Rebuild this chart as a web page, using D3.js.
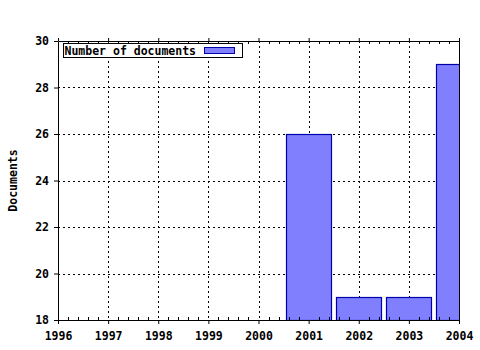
<!DOCTYPE html>
<html>
<head>
<meta charset="utf-8">
<script src="https://cdn.jsdelivr.net/npm/d3@7"></script>
<style>
  body { margin: 0; background: #fff; }
  text { font-family: "DejaVu Sans Mono", monospace; font-weight: bold; font-size: 11.5px; fill: #000; }
</style>
</head>
<body>
<div class="chart"></div>
<script>
// data
var years = [2001, 2002, 2003, 2004]
var docs = [26, 19, 19, 29]
var yearTicks = [1996, 1997, 1998, 1999, 2000, 2001, 2002, 2003, 2004]
var docTicks = [18, 20, 22, 24, 26, 28, 30]

var margin = {top: 41, right: 21, bottom: 30, left: 58},
    width = 480 - margin.left - margin.right,
    height = 279

var svg = d3.select(".chart")
  .append("svg")
    .attr("width", 480)
    .attr("height", 350)
  .append("g")
    .attr("transform", "translate(" + margin.left + "," + margin.top + ")")

var x = d3.scaleLinear().domain([1996, 2004]).range([0, width])
var y = d3.scaleLinear().domain([18, 30]).range([height, 0])

svg.append("clipPath").attr("id", "plot")
  .append("rect").attr("width", width + 0.5).attr("height", height)

// grid
svg.selectAll("hgrid")
  .data(docTicks.slice(1, -1))
  .enter().append("line")
    .attr("x1", 0).attr("x2", width)
    .attr("y1", function(d) { return Math.round(y(d)) + 0.5 })
    .attr("y2", function(d) { return Math.round(y(d)) + 0.5 })
    .attr("stroke", "#000").attr("stroke-dasharray", "2,3")

svg.selectAll("vgrid")
  .data(yearTicks.slice(1, -1))
  .enter().append("line")
    .attr("x1", function(d) { return Math.round(x(d)) + 0.5 })
    .attr("x2", function(d) { return Math.round(x(d)) + 0.5 })
    .attr("y1", 0).attr("y2", height)
    .attr("stroke", "#000").attr("stroke-dasharray", "2,3")

// bars
var bw = x(1996.9) - x(1996)
svg.append("g").attr("clip-path", "url(#plot)")
  .selectAll("rect")
  .data(years)
  .enter().append("rect")
    .attr("x", function(d) { return Math.round(x(d) - bw / 2) + 0.5 })
    .attr("y", function(d, i) { return Math.round(y(docs[i])) + 0.5 })
    .attr("width", Math.round(bw))
    .attr("height", function(d, i) { return height - Math.round(y(docs[i])) })
    .attr("fill", "#8080ff")
    .attr("stroke", "#0000aa")
    .attr("stroke-width", 1.2)

// axes
var minor = d3.range(0, 40).map(function(i) { return 1996 + i * 0.2 }).filter(function(d, i) { return i % 5 != 0 })

svg.append("g")
    .classed("axis xaxis", true)
    .attr("transform", "translate(0," + height + ")")
    .call(d3.axisBottom(x).tickValues(yearTicks).tickFormat(d3.format("d")).tickSizeInner(4).tickSizeOuter(0).tickPadding(8))

svg.append("g")
    .attr("transform", "translate(0," + height + ")")
    .selectAll("line").data(minor).enter().append("line")
      .attr("x1", function(d) { return Math.round(x(d)) + 0.5 })
      .attr("x2", function(d) { return Math.round(x(d)) + 0.5 })
      .attr("y1", 0).attr("y2", -3).attr("stroke", "#000")

svg.append("g")
    .classed("axis topaxis", true)
    .call(d3.axisTop(x).tickValues(yearTicks).tickFormat("").tickSizeInner(3).tickSizeOuter(0))

svg.append("g")
    .selectAll("line").data(minor).enter().append("line")
      .attr("x1", function(d) { return Math.round(x(d)) + 0.5 })
      .attr("x2", function(d) { return Math.round(x(d)) + 0.5 })
      .attr("y1", 0).attr("y2", 3).attr("stroke", "#000")

svg.append("g")
    .classed("axis yaxis", true)
    .call(d3.axisLeft(y).tickValues(docTicks).tickFormat(d3.format("d")).tickSizeInner(4).tickSizeOuter(0).tickPadding(5))

svg.append("line")
    .attr("x1", width + 0.5).attr("x2", width + 0.5)
    .attr("y1", -3).attr("y2", height)
    .attr("stroke", "#000")

svg.selectAll(".axis path").attr("stroke", "#000")
svg.selectAll(".axis text").style("font-size", "11.5px")

// axis label
svg.append("text")
    .attr("transform", "translate(" + (-41) + "," + (height / 2) + ") rotate(-90)")
    .style("text-anchor", "middle")
    .text("Documents")

// legend
var legend = svg.append("g").attr("transform", "translate(5.5,2.5)")
legend.append("rect")
    .attr("width", 179).attr("height", 14)
    .attr("fill", "#fff").attr("stroke", "#000")
legend.append("text")
    .attr("x", 1).attr("y", 11)
    .text("Number of documents")
legend.append("rect")
    .attr("x", 141).attr("y", 4)
    .attr("width", 30).attr("height", 6)
    .attr("fill", "#8080ff").attr("stroke", "#0000aa")
</script>
</body>
</html>
